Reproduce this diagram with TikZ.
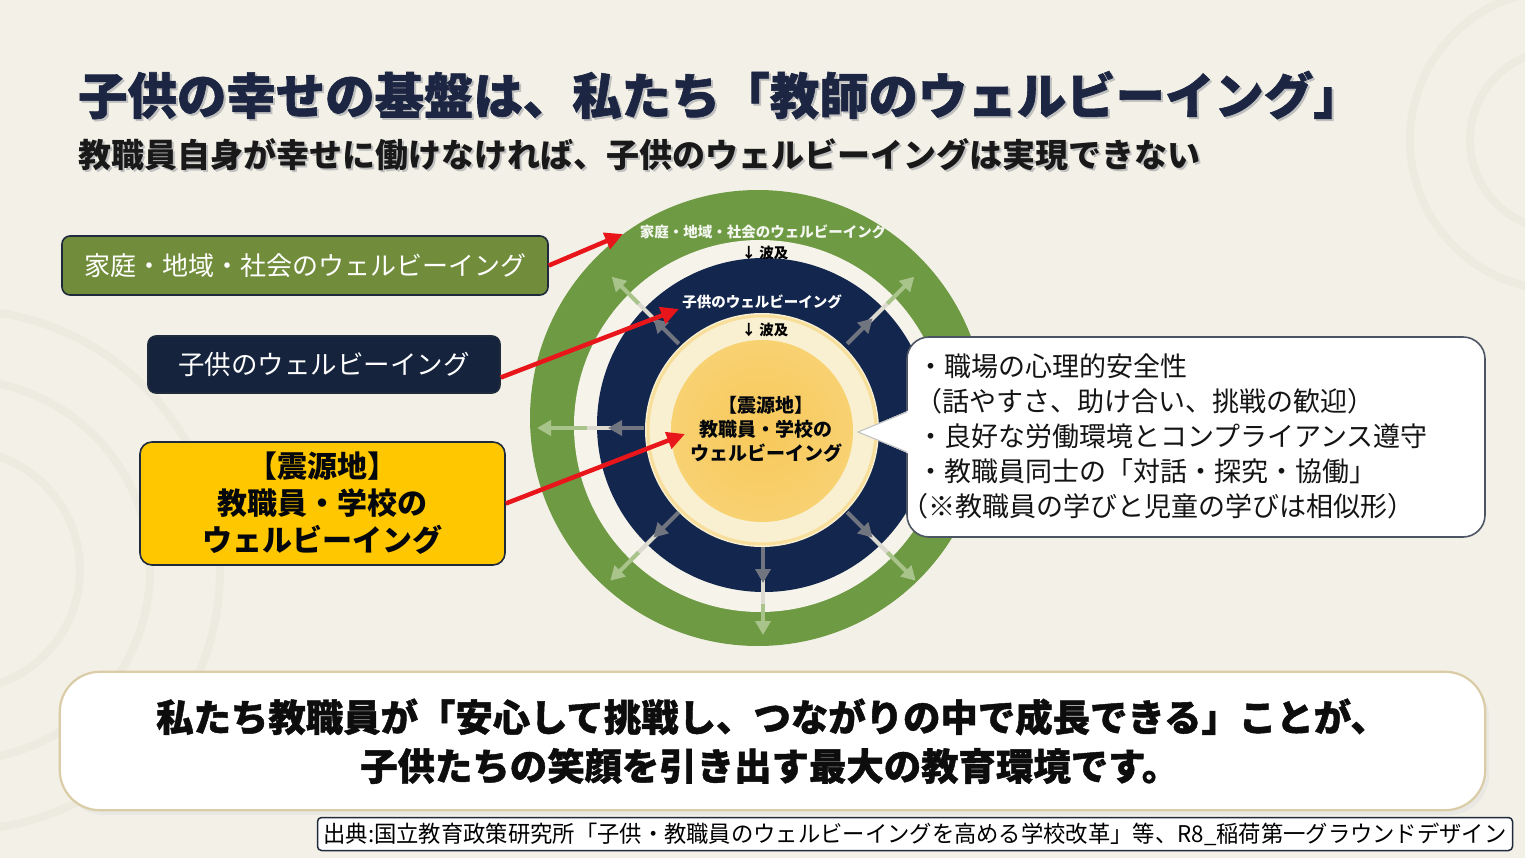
\documentclass[tikz,border=0pt]{standalone}
\usepackage{fontspec}
\setmainfont{Noto Sans CJK JP}
\newfontfamily\heavy{Noto Sans CJK JP}[FakeBold=1.2]
\usetikzlibrary{arrows.meta,calc}
\definecolor{bg}{HTML}{F3F1E7}
\definecolor{gap}{HTML}{F5F3EA}
\definecolor{ringgreen}{HTML}{6F9A44}
\definecolor{ringnavy}{HTML}{13264D}
\definecolor{creamring}{HTML}{F8F0D0}
\definecolor{coreyellow}{HTML}{F8C95A}
\definecolor{boxgreen}{HTML}{718D3B}
\definecolor{boxnavy}{HTML}{15233D}
\definecolor{boxyellow}{HTML}{FFC700}
\definecolor{redline}{HTML}{E8161B}
\definecolor{titlenavy}{HTML}{1C2642}
\definecolor{edge}{HTML}{1F2A3C}
\definecolor{arrgray}{HTML}{70757F}
\definecolor{arrgreen}{HTML}{A8C48A}
\definecolor{gapline}{HTML}{DCD9CF}
\definecolor{swirl}{HTML}{E6E2D6}
\definecolor{msgedge}{HTML}{D9CCA6}
\begin{document}
\begin{tikzpicture}[x=1pt,y=-1pt,
  fs/.style={font=\fontsize{#1}{#1}\selectfont},
  box/.style={draw=edge, line width=1.6pt, rounded corners=8pt, inner sep=0pt},
  redarr/.style={draw=redline, line width=4.5pt, -{Triangle[length=18pt,width=17pt]}},
  navyarr/.style={draw=arrgray, line width=4pt, -{Triangle[length=14pt,width=15pt]}},
  greenarr/.style={draw=arrgreen, line width=4pt, -{Triangle[length=14pt,width=15pt]}},
  ringlabel/.style={inner sep=0pt, font=\fontsize{14.5}{15}\selectfont},
  waves/.style={draw=gapline, line width=4pt},
]
\useasboundingbox (0,0) rectangle (1525,858);
\fill[bg] (0,0) rectangle (1525,858);
% faint background swirls
\begin{scope}[swirl, line width=8pt, opacity=0.45]
  \draw (1560,140) circle (90);
  \draw (1560,140) circle (150);
  \draw (-40,570) circle (120);
  \draw (-40,570) circle (190);
  \draw (-40,570) circle (260);
\end{scope}

% ---------- title ----------
\node[anchor=west, inner sep=0pt, text=gray!50, fs=49.4] at (80,97) {\heavy\bfseries 子供の幸せの基盤は、私たち「教師のウェルビーイング」};
\node (title)[anchor=west, inner sep=0pt, text=titlenavy, fs=49.4] at (78,95) {\heavy\bfseries 子供の幸せの基盤は、私たち「教師のウェルビーイング」};
\node[anchor=west, inner sep=0pt, text=gray!50, fs=33] at (80,157) {\bfseries 教職員自身が幸せに働けなければ、子供のウェルビーイングは実現できない};
\node (subtitle)[anchor=west, inner sep=0pt, text=black!90, fs=33] at (78,155) {\bfseries 教職員自身が幸せに働けなければ、子供のウェルビーイングは実現できない};

% ---------- rings ----------
\coordinate (c) at (763,428);
\fill[ringgreen] (758,418) circle (228);
\fill[gap] (760,426) circle (186);
\fill[ringnavy] (764,425) circle (167);
\fill[creamring] (762,430) circle (117);
\draw[color=coreyellow!45!creamring, line width=3pt] (762,430) circle (114);
\shade[inner color=coreyellow, outer color=coreyellow!80!creamring] (762,431) circle (91);

% radiating arrows
\foreach \a/\r in {-45/214, -135/214, 180/226, 135/216, 90/207, 45/216, 0/216}{
  \draw[waves] ($(c)+(\a:150)$) -- ($(c)+(\a:178)$);
  \draw[navyarr] ($(c)+(\a:119)$) -- ($(c)+(\a:155)$);
  \draw[greenarr] ($(c)+(\a:176)$) -- ($(c)+(\a:\r)$);
}

% ring labels
\node (lab1)[ringlabel, text=white!92!ringgreen] at (763,232) {\bfseries 家庭・地域・社会のウェルビーイング};
\node (wave1)[ringlabel, text=black] at (765,253) {\bfseries ↓ 波及};
\node (lab2)[ringlabel, text=white] at (762,302) {\bfseries 子供のウェルビーイング};
\node (wave2)[ringlabel, text=black] at (765,330) {\bfseries ↓ 波及};
\node (core)[inner sep=0pt, align=center, text=black!85!ringnavy, font=\fontsize{19}{24}\selectfont\bfseries] at (766,429) {【震源地】\\教職員・学校の\\ウェルビーイング};

% ---------- left boxes ----------
\node (gbox)[box, fill=boxgreen, minimum width=486pt, minimum height=59pt, text=white, fs=26] at (305,265.5) {家庭・地域・社会のウェルビーイング};
\node (nbox)[box, fill=boxnavy, minimum width=352pt, minimum height=57pt, text=white, fs=26.5] at (324,364.5) {子供のウェルビーイング};
\node (ybox)[box, fill=boxyellow, rounded corners=12pt, minimum width=365pt, minimum height=123pt, text=black!85!ringnavy, align=center, font=\fontsize{30}{37}\selectfont\bfseries] at (322.5,503.5) {【震源地】\\教職員・学校の\\ウェルビーイング};

% red arrows
\coordinate (t1) at (623,234);
\coordinate (t2) at (679,309);
\coordinate (t3) at (685,434);
\draw[redarr] (gbox.east) -- (t1);
\draw[redarr] ([yshift=-13pt]nbox.east) -- (t2);
\draw[redarr] (ybox.east) -- (t3);

% ---------- callout ----------
\node (info)[draw=edge!80, line width=1.6pt, fill=white, rounded corners=22pt, minimum width=578pt, minimum height=200pt] at (1196,437) {};
\coordinate (ptip) at (858,432);
\fill[white] (ptip) -- (912,409) -- (912,455) -- cycle;
\draw[black!25, line width=1pt] (907,412) -- (ptip) -- (907,452);
\node (infotext)[anchor=west, inner sep=0pt, align=left, text=black!92, font=\fontsize{27}{35}\selectfont] at (917,436) {・職場の心理的安全性\\\hspace*{-2pt}（話やすさ、助け合い、挑戦の歓迎）\\・良好な労働環境とコンプライアンス遵守\\・教職員同士の「対話・探究・協働」\\\hspace*{-16pt}（※教職員の学びと児童の学びは相似形）};

% ---------- bottom message ----------
\fill[black!12, opacity=0.5, rounded corners=40pt] (64,677) rectangle (1489,815);
\node (msg)[inner sep=0pt, minimum width=1425pt, minimum height=138pt] at (772.5,741) {};
\filldraw[fill=white, draw=msgedge, line width=2.2pt, rounded corners=40pt] (msg.north west) rectangle (msg.south east);
\node (msg1)[anchor=west, inner sep=0pt, text=black!95, fs=37.4] at (156,717) {\heavy\bfseries 私たち教職員が「安心して挑戦し、つながりの中で成長できる」ことが、};
\node (msg2)[anchor=west, inner sep=0pt, text=black!95, fs=37.4] at (360,766) {\heavy\bfseries 子供たちの笑顔を引き出す最大の教育環境です。};

% ---------- source ----------
\node (src)[draw=edge, line width=1.5pt, fill=white, rounded corners=4pt, minimum width=1195pt, minimum height=33pt, inner sep=0pt] at (915,834) {};
\node (srctext)[inner sep=0pt, text=black, fs=23] at (src.center) {\scalebox{0.97}[1]{出典:国立教育政策研究所「子供・教職員のウェルビーイングを高める学校改革」等、R8\_稲荷第一グラウンドデザイン}};
\end{tikzpicture}
\end{document}
